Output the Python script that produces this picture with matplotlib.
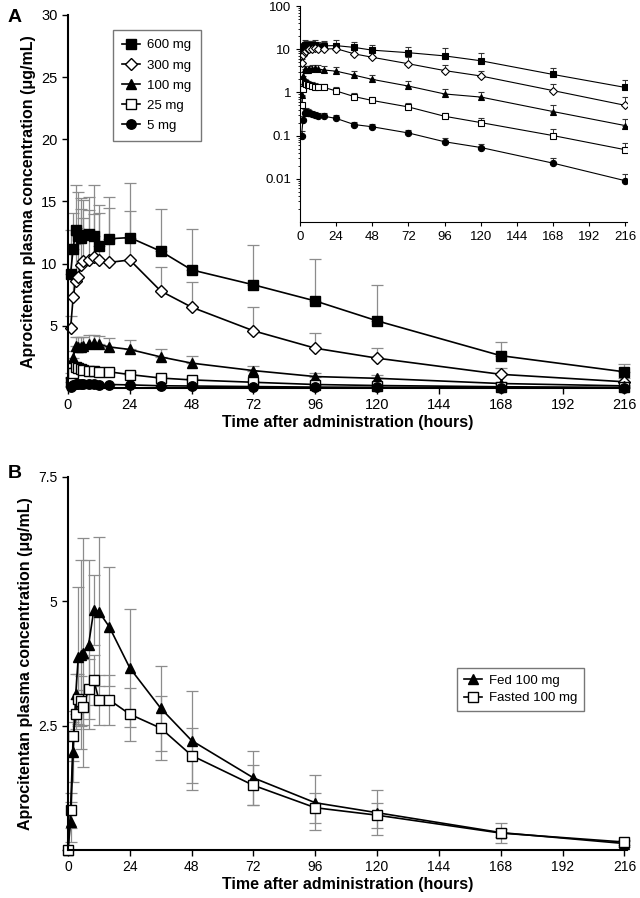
import numpy as np
import matplotlib.pyplot as plt
from matplotlib.ticker import FixedLocator, NullFormatter, LogLocator

plt.rcParams['font.family'] = ['Liberation Sans', 'DejaVu Sans']

# ---- panel A data (hours, ug/mL, upper SD) ----
times_a = [1, 2, 3, 4, 5, 6, 8, 10, 12, 16, 24, 36, 48, 72, 96, 120, 168, 216]
conc_600 = [9.2, 11.2, 12.7, 12.2, 12.1, 12.3, 12.4, 12.2, 11.4, 12.0, 12.1, 11.0, 9.5, 8.3, 7.0, 5.4, 2.6, 1.3]
sd_600 = [3.5, 2.9, 3.6, 3.6, 3.2, 2.8, 3.0, 4.1, 3.3, 3.4, 4.4, 3.4, 3.3, 3.2, 3.4, 2.9, 1.1, 0.6]
conc_300 = [4.8, 7.3, 8.6, 8.9, 9.9, 10.2, 10.3, 10.5, 10.3, 10.1, 10.3, 7.8, 6.5, 4.6, 3.2, 2.4, 1.1, 0.5]
sd_300 = [1.0, 2.0, 3.0, 4.0, 4.5, 3.5, 4.0, 3.5, 3.8, 4.4, 3.9, 1.9, 2.0, 1.9, 1.2, 0.8, 0.5, 0.3]
conc_100 = [0.88, 2.4, 3.4, 3.3, 3.3, 3.4, 3.5, 3.6, 3.5, 3.3, 3.1, 2.5, 2.0, 1.4, 0.92, 0.78, 0.36, 0.17]
sd_100 = [0.3, 0.6, 0.7, 0.8, 0.8, 0.7, 0.8, 0.7, 0.7, 0.7, 0.75, 0.65, 0.55, 0.4, 0.3, 0.25, 0.14, 0.07]
conc_25 = [0.52, 1.2, 1.65, 1.6, 1.5, 1.45, 1.4, 1.35, 1.3, 1.3, 1.08, 0.8, 0.65, 0.46, 0.28, 0.2, 0.1, 0.047]
sd_25 = [0.3, 0.4, 0.4, 0.35, 0.3, 0.3, 0.3, 0.3, 0.3, 0.25, 0.22, 0.15, 0.13, 0.11, 0.06, 0.05, 0.04, 0.022]
conc_5 = [0.1, 0.23, 0.34, 0.36, 0.34, 0.33, 0.31, 0.3, 0.28, 0.28, 0.25, 0.18, 0.16, 0.115, 0.072, 0.053, 0.023, 0.009]
sd_5 = [0.03, 0.06, 0.07, 0.07, 0.07, 0.06, 0.06, 0.06, 0.05, 0.05, 0.05, 0.03, 0.025, 0.02, 0.016, 0.012, 0.007, 0.004]

doses = ['600 mg', '300 mg', '100 mg', '25 mg', '5 mg']
markers = ['s', 'D', '^', 's', 'o']
filled = [True, False, True, False, True]
concs = [conc_600, conc_300, conc_100, conc_25, conc_5]
sds = [sd_600, sd_300, sd_100, sd_25, sd_5]

# ---- panel B data ----
times_b = [0, 1, 2, 3, 4, 5, 6, 8, 10, 12, 16, 24, 36, 48, 72, 96, 120, 168, 216]
fed = [0, 0.57, 1.97, 3.13, 3.89, 3.93, 3.97, 4.13, 4.82, 4.79, 4.49, 3.66, 2.85, 2.2, 1.45, 0.95, 0.75, 0.35, 0.13]
fed_sd = [0, 0.4, 0.6, 0.4, 1.4, 1.9, 2.3, 1.7, 0.7, 1.5, 1.2, 1.18, 0.85, 1.0, 0.55, 0.55, 0.45, 0.2, 0.06]
fasted = [0, 0.8, 2.29, 2.73, 3.03, 3.0, 2.87, 3.24, 3.42, 3.02, 3.02, 2.73, 2.45, 1.9, 1.3, 0.85, 0.7, 0.34, 0.16]
fasted_sd = [0, 0.35, 0.5, 0.3, 0.5, 0.5, 0.35, 0.6, 0.5, 0.5, 0.5, 0.53, 0.65, 0.55, 0.4, 0.3, 0.25, 0.08, 0.05]

xticks = [0, 24, 48, 72, 96, 120, 144, 168, 192, 216]
ylab = 'Aprocitentan plasma concentration (\u03bcg/mL)'
xlab = 'Time after administration (hours)'

fig = plt.figure(figsize=(6.4, 8.98), dpi=100)
ax1 = fig.add_axes([68/640, 1-388/898, 559/640, 373/898])
ax2 = fig.add_axes([68/640, 1-850/898, 559/640, 373/898])
axi = fig.add_axes([300/640, 1-222/898, 327/640, 216/898])

def style(ax, fs):
    for s in ['top', 'right']:
        ax.spines[s].set_visible(False)
    ax.spines['left'].set_linewidth(1.5)
    ax.spines['bottom'].set_linewidth(1.5)
    ax.tick_params(direction='out', length=4, width=1, labelsize=fs)
    ax.set_xticks(xticks)

# panel A main
for lab, m, f, c, sd in zip(doses, markers, filled, concs, sds):
    ms = 7.5 if m == 'D' else 8
    ax1.errorbar(times_a, c, yerr=[np.zeros(len(sd)), sd], fmt='-' + m, color='k',
                 mfc='k' if f else 'white', mec='k', ms=ms * 0.85, lw=1.2,
                 ecolor='#8c8c8c', elinewidth=0.9, capsize=4, capthick=0.9,
                 label=lab, clip_on=False)
style(ax1, 10.5)
ax1.set_xlim(0, 217)
ax1.set_ylim(0, 30)
ax1.set_yticks([5, 10, 15, 20, 25, 30])
ax1.set_ylabel(ylab, fontsize=11.5, fontweight='bold')
ax1.set_xlabel(xlab, fontsize=11.5, fontweight='bold', labelpad=2)
h, l = ax1.get_legend_handles_labels()
h = [x[0] for x in h]
ax1.legend(h, l, loc='upper left', bbox_to_anchor=(0.08, 0.96), borderaxespad=0,
           fontsize=9.5, frameon=True, fancybox=False, edgecolor='#555555',
           handlelength=1.4, handletextpad=0.5, labelspacing=0.6, borderpad=0.7)

# panel A inset (log)
for lab, m, f, c, sd in zip(doses, markers, filled, concs, sds):
    axi.errorbar(times_a, c, yerr=[np.zeros(len(sd)), sd], fmt='-' + m, color='k',
                 mfc='k' if f else 'white', mec='k', ms=4.5, mew=0.8, lw=0.8,
                 ecolor='#333333', elinewidth=0.7, capsize=2.5, capthick=0.7)
for s in ['top', 'right']:
    axi.spines[s].set_visible(False)
axi.set_yscale('log')
axi.set_xlim(0, 217)
axi.set_ylim(0.001, 100)
axi.set_xticks(xticks)
axi.yaxis.set_major_locator(FixedLocator([0.01, 0.1, 1, 10, 100]))
axi.set_yticklabels(['0.01', '0.1', '1', '10', '100'])
axi.yaxis.set_minor_locator(LogLocator(base=10, subs=np.arange(2, 10) * 1.0))
axi.yaxis.set_minor_formatter(NullFormatter())
axi.tick_params(direction='out', length=3, labelsize=9.5)
axi.tick_params(which='minor', length=1.5)
axi.patch.set_alpha(0)

# panel B
ax2.errorbar(times_b, fed, yerr=fed_sd, fmt='-^', color='k', mfc='k', mec='k', ms=7.5,
             lw=1.2, ecolor='#8c8c8c', elinewidth=0.9, capsize=4, capthick=0.9,
             label='Fed 100 mg', clip_on=False)
ax2.errorbar(times_b, fasted, yerr=fasted_sd, fmt='-s', color='k', mfc='white', mec='k', ms=7,
             lw=1.2, ecolor='#8c8c8c', elinewidth=0.9, capsize=4, capthick=0.9,
             label='Fasted 100 mg', clip_on=False)
style(ax2, 10)
ax2.set_xlim(0, 217)
ax2.set_ylim(0, 7.5)
ax2.set_yticks([2.5, 5, 7.5])
ax2.set_yticklabels(['2.5', '5', '7.5'])
ax2.set_ylabel(ylab, fontsize=11.5, fontweight='bold')
ax2.set_xlabel(xlab, fontsize=11.5, fontweight='bold', labelpad=2)
h, l = ax2.get_legend_handles_labels()
h = [x[0] for x in h]
ax2.legend(h, l, loc='upper left', bbox_to_anchor=(0.696, 0.488), borderaxespad=0,
           fontsize=9.5, frameon=True, fancybox=False, edgecolor='#555555',
           handlelength=1.4, handletextpad=0.5, labelspacing=0.4, borderpad=0.5)

fig.text(0.012, 0.99, 'A', fontsize=14, fontweight='bold', va='top')
fig.text(0.012, 1-465/898, 'B', fontsize=14, fontweight='bold', va='top')

fig.savefig('out.png', dpi=100)
